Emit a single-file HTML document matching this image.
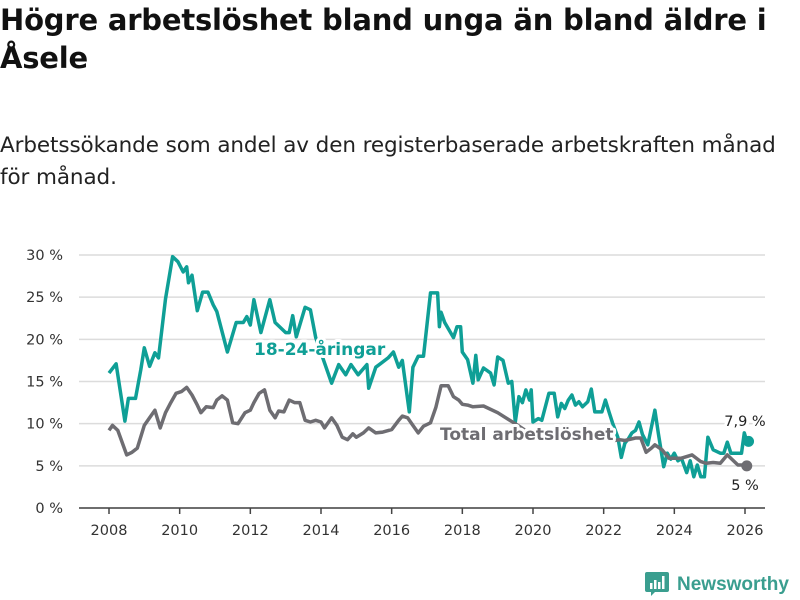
<!DOCTYPE html>
<html><head><meta charset="utf-8">
<style>
body{margin:0;background:#fff;width:800px;height:600px;overflow:hidden;font-family:"DejaVu Sans","Liberation Sans",sans-serif;}
#title{position:absolute;left:0;top:1px;margin:0;font-size:29px;font-weight:bold;line-height:38px;color:#111;width:790px;letter-spacing:-0.2px}
#subtitle{position:absolute;left:0;top:130px;margin:0;font-size:21.5px;line-height:32px;color:#222;width:785px;letter-spacing:-0.1px}
svg{position:absolute;left:0;top:0}
</style></head>
<body>
<h1 id="title">Högre arbetslöshet bland unga än bland äldre i Åsele</h1>
<p id="subtitle">Arbetssökande som andel av den registerbaserade arbetskraften månad för månad.</p>
<svg id="chart" width="800" height="600"></svg>
<script>
const youthDates=[2008.0,2008.2,2008.45,2008.55,2008.75,2008.9,2009.0,2009.15,2009.3,2009.4,2009.6,2009.8,2009.95,2010.1,2010.2,2010.25,2010.35,2010.5,2010.65,2010.8,2010.95,2011.05,2011.35,2011.6,2011.8,2011.9,2012.0,2012.1,2012.3,2012.55,2012.7,2013.0,2013.1,2013.2,2013.3,2013.55,2013.7,2013.85,2014.3,2014.5,2014.7,2014.85,2015.05,2015.3,2015.35,2015.55,2015.9,2016.05,2016.2,2016.3,2016.5,2016.6,2016.75,2016.9,2017.1,2017.3,2017.35,2017.4,2017.5,2017.75,2017.85,2017.95,2018.0,2018.15,2018.3,2018.38,2018.45,2018.6,2018.8,2018.9,2019.0,2019.15,2019.3,2019.4,2019.5,2019.6,2019.7,2019.8,2019.9,2019.95,2020.0,2020.15,2020.25,2020.45,2020.6,2020.7,2020.8,2020.9,2021.0,2021.1,2021.2,2021.3,2021.4,2021.55,2021.65,2021.75,2021.95,2022.05,2022.15,2022.25,2022.4,2022.5,2022.6,2022.7,2022.8,2022.9,2023.0,2023.1,2023.25,2023.45,2023.55,2023.7,2023.8,2023.9,2024.0,2024.1,2024.2,2024.35,2024.45,2024.55,2024.65,2024.75,2024.85,2024.95,2025.1,2025.3,2025.4,2025.5,2025.6,2025.9,2025.98,2026.05,2026.1];
const youthValues=[16.0,17.1,10.3,13.0,13.0,16.4,19.0,16.8,18.4,17.8,24.8,29.8,29.2,28.0,28.6,26.7,27.6,23.4,25.6,25.6,24.1,23.3,18.5,22.0,22.0,22.7,21.7,24.7,20.8,24.7,22.0,20.8,20.8,22.8,20.3,23.8,23.5,20.2,14.8,17.0,15.8,17.0,15.8,17.0,14.2,16.7,17.8,18.5,16.7,17.5,11.4,16.7,18.0,18.0,25.5,25.5,21.5,23.2,22.0,20.2,21.5,21.5,18.5,17.6,14.8,18.1,15.2,16.6,16.0,14.6,17.9,17.5,14.8,15.0,10.2,13.2,12.5,14.0,12.8,14.0,10.2,10.6,10.4,13.6,13.6,10.8,12.4,11.8,12.8,13.4,12.2,12.6,12.0,12.6,14.1,11.4,11.4,12.8,11.4,10.1,8.4,6.0,7.7,8.2,8.9,9.2,10.2,8.7,7.5,11.6,8.8,4.9,6.5,5.8,6.5,5.6,5.9,4.2,5.6,3.7,5.1,3.7,3.7,8.4,6.9,6.5,6.5,7.8,6.5,6.5,8.9,7.9,7.9];
const totalDates=[2008.0,2008.1,2008.25,2008.5,2008.65,2008.8,2009.0,2009.15,2009.3,2009.45,2009.6,2009.75,2009.9,2010.05,2010.2,2010.35,2010.5,2010.6,2010.75,2010.95,2011.05,2011.2,2011.35,2011.5,2011.65,2011.85,2012.0,2012.1,2012.25,2012.4,2012.55,2012.7,2012.8,2012.95,2013.1,2013.25,2013.4,2013.55,2013.7,2013.85,2014.0,2014.1,2014.3,2014.45,2014.6,2014.75,2014.9,2015.0,2015.2,2015.35,2015.55,2015.75,2016.0,2016.2,2016.3,2016.45,2016.6,2016.75,2016.9,2017.1,2017.25,2017.4,2017.6,2017.75,2017.9,2018.0,2018.15,2018.3,2018.6,2019.0,2019.5,2020.0,2020.5,2021.0,2021.5,2022.0,2022.3,2022.45,2022.6,2022.9,2023.05,2023.2,2023.35,2023.45,2023.65,2023.85,2024.0,2024.2,2024.5,2024.75,2024.9,2025.1,2025.3,2025.5,2025.8,2026.05];
const totalValues=[9.2,9.8,9.2,6.3,6.6,7.1,9.8,10.7,11.6,9.5,11.3,12.5,13.6,13.8,14.3,13.4,12.2,11.3,12.0,11.9,12.8,13.3,12.8,10.1,10.0,11.3,11.6,12.5,13.6,14.0,11.6,10.7,11.5,11.4,12.8,12.5,12.5,10.4,10.2,10.4,10.2,9.5,10.7,9.8,8.4,8.1,8.8,8.4,8.9,9.5,8.9,9.0,9.3,10.4,10.9,10.7,9.8,8.9,9.7,10.1,11.9,14.5,14.5,13.2,12.8,12.3,12.2,12.0,12.1,11.3,10.0,8.6,8.1,8.3,8.0,8.2,8.0,8.1,8.0,8.3,8.3,6.6,7.1,7.5,6.9,5.9,5.9,5.9,6.3,5.5,5.3,5.4,5.3,6.3,5.1,5.1,5.1,5.0];
const yTicks=[0,5,10,15,20,25,30];
const xTicks=[2008,2010,2012,2014,2016,2018,2020,2022,2024,2026];

const svg=document.getElementById('chart');
const NS='http://www.w3.org/2000/svg';
const x=d=>109+(d-2008)*(636/18);
const y=v=>508-v*(253/30);
function mk(tag,attrs,parent){const e=document.createElementNS(NS,tag);for(const k in attrs)e.setAttribute(k,attrs[k]);(parent||svg).appendChild(e);return e;}

yTicks.forEach(t=>{
  const g=mk('line',{x1:79,x2:765,y1:y(t),y2:y(t),stroke:'#dcdcdc','stroke-width':1.5});
  
  
  const l=mk('text',{x:63,y:y(t)+5,'text-anchor':'end','font-size':14.5,fill:'#333','font-family':'DejaVu Sans, sans-serif'});
  l.textContent=t+' %';
  
  
});
const ax=mk('line',{x1:79,x2:765,y1:508,y2:508,stroke:'#444','stroke-width':1.5});


xTicks.forEach(t=>{
  const tk=mk('line',{x1:x(t),x2:x(t),y1:508,y2:514,stroke:'#444','stroke-width':1.5});
  
  
  const l=mk('text',{x:x(t),y:535,'text-anchor':'middle','font-size':14.5,fill:'#333','font-family':'DejaVu Sans, sans-serif'});
  l.textContent=t;
  
  
});
function path(dates,vals,color,name){
  const d=dates.map((t,i)=>(i?'L':'M')+x(t).toFixed(1)+','+y(vals[i]).toFixed(1)).join('');
  const p=mk('path',{d:d,fill:'none',stroke:color,'stroke-width':3.5,'stroke-linejoin':'round'});
  
  
  const c=mk('circle',{cx:x(dates[dates.length-1]),cy:y(vals[vals.length-1]),r:5.5,fill:color});
  
  
}
path(youthDates,youthValues,'#0f9f96','youth-line');
path(totalDates,totalValues,'#6e6d72','total-line');
function label(txt,tx,ty,color,name,bold,size,anchor){
  const a={x:tx,y:ty,'font-size':size,'font-weight':bold?'bold':'normal','font-family':'DejaVu Sans, sans-serif','text-anchor':anchor||'start'};
  const h=mk('text',Object.assign({},a,{fill:'#fff',stroke:'#fff','stroke-width':6,'stroke-linejoin':'round'}));
  h.textContent=txt;
  
  
  const t=mk('text',Object.assign({},a,{fill:color}));
  t.textContent=txt;
  
  
}
label('18-24-åringar',254,355,'#0f9f96','youth-series-label',true,17);
label('Total arbetslöshet',440,440,'#6e6d72','total-series-label',true,17);
label('7,9 %',745,426,'#222','youth-end-value',false,14.5,'middle');
label('5 %',745,490,'#222','total-end-value',false,14.5,'middle');

const logo=mk('g',{});


mk('path',{d:'M647,572 h20 a2,2 0 0 1 2,2 v16 a2,2 0 0 1 -2,2 h-12 l-4,4 v-4 h-4 a2,2 0 0 1 -2,-2 v-16 a2,2 0 0 1 2,-2z',fill:'#3a9e8f'},logo);
mk('rect',{x:650,y:583,width:2.5,height:6,fill:'#fff'},logo);
mk('rect',{x:654,y:580,width:2.5,height:9,fill:'#fff'},logo);
mk('rect',{x:658,y:582,width:2.5,height:7,fill:'#fff'},logo);
mk('rect',{x:662,y:576,width:2.5,height:13,fill:'#fff'},logo);
const lt=mk('text',{x:677,y:590,'font-size':19,'font-weight':'bold',fill:'#3a9e8f','font-family':'Liberation Sans, sans-serif'},logo);
lt.textContent='Newsworthy';
</script>
</body></html>
